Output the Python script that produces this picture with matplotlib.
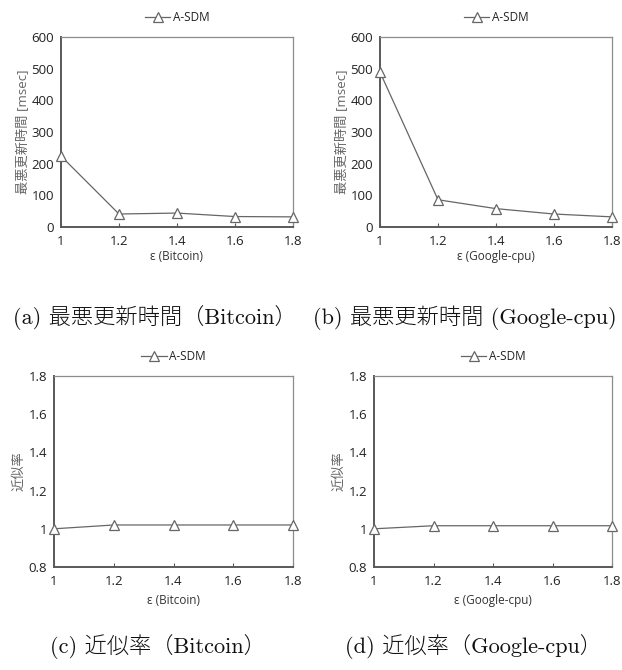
import matplotlib
matplotlib.use("Agg")
import matplotlib.pyplot as plt

eps = [1.0, 1.2, 1.4, 1.6, 1.8]
xticklabels = ["1", "1.2", "1.4", "1.6", "1.8"]
time_bitcoin = [224, 41, 44, 33, 32]
time_google = [489, 86, 58, 41, 32]
ratio_bitcoin = [1.0, 1.02, 1.02, 1.02, 1.02]
ratio_google = [1.0, 1.016, 1.016, 1.016, 1.016]

time_ticks = [0, 100, 200, 300, 400, 500, 600]
time_ticklabels = ["0", "100", "200", "300", "400", "500", "600"]
ratio_ticks = [0.8, 1.0, 1.2, 1.4, 1.6, 1.8]
ratio_ticklabels = ["0.8", "1", "1.2", "1.4", "1.6", "1.8"]

series_name = "A-SDM"
time_ylabel = "最悪更新時間 [msec]"
ratio_ylabel = "近似率"
xlabels = ["ε (Bitcoin)", "ε (Google-cpu)", "ε (Bitcoin)", "ε (Google-cpu)"]
captions = ["(a) 最悪更新時間（Bitcoin）", "(b) 最悪更新時間 (Google-cpu)",
            "(c) 近似率（Bitcoin）", "(d) 近似率（Google-cpu）"]

W, H = 622, 670
fig = plt.figure(figsize=(W / 100, H / 100), dpi=100)

sans = ["Open Sans", "Noto Sans CJK JP", "DejaVu Sans"]
serif = ["cmr10", "Noto Sans CJK JP", "DejaVu Serif"]

def px_axes(l, t, r, b):
    return fig.add_axes([l / W, 1 - b / H, (r - l) / W, (b - t) / H])

panels = [
    (61, 37, 293, 227, time_bitcoin, time_ticks, time_ticklabels, (0, 600), time_ylabel),
    (380, 37, 612, 227, time_google, time_ticks, time_ticklabels, (0, 600), time_ylabel),
    (54, 376, 293, 567, ratio_bitcoin, ratio_ticks, ratio_ticklabels, (0.8, 1.8), ratio_ylabel),
    (374, 376, 612, 567, ratio_google, ratio_ticks, ratio_ticklabels, (0.8, 1.8), ratio_ylabel),
]

dark = "#595959"
for i, (l, t, r, b, ys, yt, ytl, ylim, ylab) in enumerate(panels):
    ax = px_axes(l, t, r, b)
    ax.plot(eps, ys, color="#666666", lw=0.9, marker="^", ms=6.5,
            mfc="white", mec="#666666", mew=0.9, label=series_name, clip_on=False, zorder=3)
    ax.set_xlim(1.0, 1.8)
    ax.set_ylim(*ylim)
    ax.set_xticks(eps)
    ax.set_xticklabels(xticklabels, family=sans, fontsize=9.5, color="#222222")
    ax.set_yticks(yt)
    ax.set_yticklabels(ytl, family=sans, fontsize=9.5, color="#222222")
    ax.tick_params(axis="both", direction="in", length=3, width=0.8, color=dark, pad=6)
    ax.tick_params(axis="y", length=0, pad=5)
    for s in ["left", "bottom"]:
        ax.spines[s].set_color(dark)
        ax.spines[s].set_linewidth(1.4)
    for s in ["top", "right"]:
        ax.spines[s].set_color("#8c8c8c")
        ax.spines[s].set_linewidth(0.9)
    ax.set_ylabel(ylab, family=sans, fontsize=9.5, color="#666666", labelpad=2)
    ax.set_xlabel(xlabels[i], family=sans, fontsize=8.5, color="#333333",
                  labelpad=1 if i < 2 else 4)
    leg = ax.legend(loc="lower center", bbox_to_anchor=(0.5, 1.03), frameon=False,
                    prop={"family": sans, "size": 8.5}, handlelength=2.2,
                    handletextpad=0.2, borderaxespad=0.2)
    for txt in leg.get_texts():
        txt.set_color("#222222")

cap_pos = [(13, 318), (313, 318), (50, 647), (345, 647)]
for (x, y), c in zip(cap_pos, captions):
    fig.text(x / W, 1 - y / H, c, family=serif, fontsize=16, color="#111111",
             ha="left", va="center", fontweight="light")

fig.savefig("out.png", dpi=100)
